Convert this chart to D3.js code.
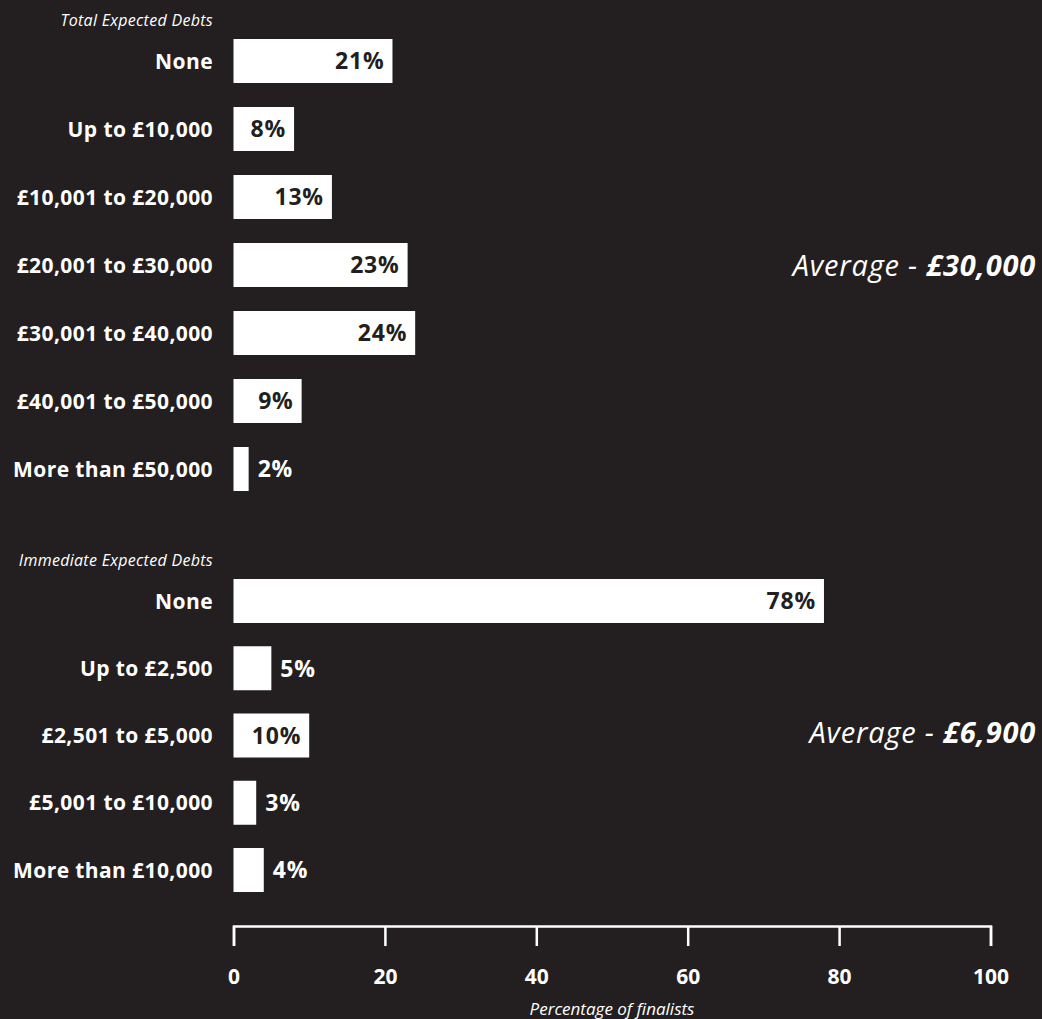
<!DOCTYPE html>
<html>
<head>
<meta charset="utf-8">
<script src="https://cdn.jsdelivr.net/npm/d3@7"></script>
<style>
  html, body { margin: 0; padding: 0; background: #231f20; }
  svg { display: block; }
  text { font-family: "Open Sans", "Noto Sans", sans-serif; }
</style>
</head>
<body>
<div id="chart"></div>
<script>
// Total expected debts at graduation
const totalCategories = ["None", "Up to £10,000", "£10,001 to £20,000", "£20,001 to £30,000",
  "£30,001 to £40,000", "£40,001 to £50,000", "More than £50,000"];
const totalValues = [21, 8, 13, 23, 24, 9, 2];
const totalAverage = "£30,000";

// Immediate expected debts
const immediateCategories = ["None", "Up to £2,500", "£2,501 to £5,000", "£5,001 to £10,000", "More than £10,000"];
const immediateValues = [78, 5, 10, 3, 4];
const immediateAverage = "£6,900";

const axisTicks = [0, 20, 40, 60, 80, 100];
const axisTitle = "Percentage of finalists";

const W = 1042, H = 1019;
const BG = "#231f20";

const svg = d3.select("#chart").append("svg")
  .attr("width", W).attr("height", H);

svg.append("rect").attr("width", W).attr("height", H).attr("fill", BG);

const x = d3.scaleLinear().domain([0, 100]).range([233.5, 990.5]);

function drawGroup(title, cats, vals, avg, top, step, avgY) {
  const barH = 44;
  const p = (step - barH) / step;
  const y = d3.scaleBand()
    .domain(cats)
    .range([top - p / 2 * step, top - p / 2 * step + cats.length * step])
    .paddingInner(p)
    .paddingOuter(p / 2);

  const g = svg.append("g");

  g.append("text")
    .attr("x", 213).attr("y", top - 13)
    .attr("text-anchor", "end")
    .attr("font-size", 16).attr("font-style", "italic")
    .attr("letter-spacing", 0.3)
    .attr("fill", "#fff")
    .text(title);

  const rows = g.selectAll("g.row").data(cats.map((c, i) => ({ c, v: vals[i] })))
    .join("g").attr("class", "row");

  rows.append("text")
    .attr("x", 213)
    .attr("y", d => y(d.c) + y.bandwidth() / 2)
    .attr("dy", "0.36em")
    .attr("text-anchor", "end")
    .attr("font-size", 21).attr("font-weight", 700)
    .attr("letter-spacing", 0.4)
    .attr("fill", "#fff")
    .text(d => d.c);

  rows.append("rect")
    .attr("x", x(0))
    .attr("y", d => y(d.c))
    .attr("width", d => x(d.v) - x(0))
    .attr("height", y.bandwidth())
    .attr("fill", "#fff");

  rows.append("text")
    .attr("x", d => d.v >= 8 ? x(d.v) - 8 : x(d.v) + 9)
    .attr("y", d => y(d.c) + y.bandwidth() / 2)
    .attr("dy", "0.36em")
    .attr("text-anchor", d => d.v >= 8 ? "end" : "start")
    .attr("font-size", 23).attr("font-weight", 700)
    .attr("letter-spacing", 0.8)
    .attr("fill", d => d.v >= 8 ? BG : "#fff")
    .text(d => d.v + "%");

  const a = g.append("text")
    .attr("x", 1036).attr("y", avgY)
    .attr("text-anchor", "end")
    .attr("font-size", 29).attr("font-style", "italic")
    .attr("letter-spacing", 0.8)
    .attr("fill", "#fff");
  a.append("tspan").text("Average - ");
  a.append("tspan").attr("font-weight", 700).text(avg);
}

drawGroup("Total Expected Debts", totalCategories, totalValues, totalAverage, 39, 68, 276);
drawGroup("Immediate Expected Debts", immediateCategories, immediateValues, immediateAverage, 579, 67.25, 743);

// Axis along the bottom: ticks hang below the baseline
const axis = svg.append("g")
  .attr("transform", "translate(0,926)")
  .call(d3.axisBottom(x).tickValues(axisTicks).tickSize(20).tickSizeOuter(20).tickPadding(23).tickFormat(d3.format("d")));

axis.select(".domain").attr("stroke", "#fff").attr("stroke-width", 2.5);
axis.selectAll(".tick line").attr("stroke", "#fff").attr("stroke-width", 2.5);
axis.selectAll(".tick text")
  .attr("fill", "#fff")
  .attr("font-size", 21).attr("font-weight", 700)
  .attr("font-family", "\"Open Sans\", \"Noto Sans\", sans-serif");

svg.append("text")
  .attr("x", x(50)).attr("y", 1015)
  .attr("text-anchor", "middle")
  .attr("font-size", 17).attr("font-style", "italic")
  .attr("fill", "#fff")
  .text(axisTitle);
</script>
</body>
</html>
